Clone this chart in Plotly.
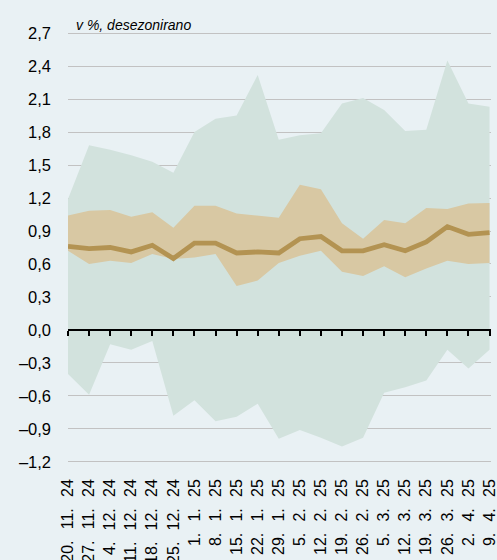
import plotly.graph_objects as go

dates = ["20. 11. 24", "27. 11. 24", "4. 12. 24", "11. 12. 24", "18. 12. 24", "25. 12. 24",
         "1. 1. 25", "8. 1. 25", "15. 1. 25", "22. 1. 25", "29. 1. 25", "5. 2. 25", "12. 2. 25",
         "19. 2. 25", "26. 2. 25", "5. 3. 25", "12. 3. 25", "19. 3. 25", "26. 3. 25", "2. 4. 25", "9. 4. 25"]

outer_upper = [1.19, 1.68, 1.64, 1.59, 1.53, 1.43, 1.80, 1.92, 1.95, 2.32, 1.73, 1.77, 1.79,
               2.06, 2.11, 2.00, 1.81, 1.82, 2.45, 2.06, 2.03]
outer_lower = [-0.40, -0.59, -0.13, -0.18, -0.10, -0.78, -0.64, -0.83, -0.79, -0.67, -0.99, -0.91, -0.98,
               -1.06, -0.98, -0.57, -0.52, -0.46, -0.18, -0.35, -0.18]
inner_upper = [1.04, 1.085, 1.09, 1.03, 1.07, 0.93, 1.13, 1.13, 1.06, 1.04, 1.02, 1.32, 1.28,
               0.97, 0.83, 1.00, 0.97, 1.11, 1.10, 1.15, 1.155]
inner_lower = [0.72, 0.60, 0.63, 0.61, 0.69, 0.645, 0.66, 0.69, 0.40, 0.45, 0.61, 0.675, 0.72,
               0.53, 0.49, 0.58, 0.48, 0.56, 0.63, 0.60, 0.61]
median = [0.76, 0.74, 0.75, 0.71, 0.77, 0.65, 0.79, 0.79, 0.70, 0.71, 0.70, 0.83, 0.85,
          0.72, 0.72, 0.775, 0.72, 0.80, 0.94, 0.87, 0.885]

y_ticks = [-1.2, -0.9, -0.6, -0.3, 0.0, 0.3, 0.6, 0.9, 1.2, 1.5, 1.8, 2.1, 2.4, 2.7]
y_ticktext = [f"{v:.1f}".replace(".", ",").replace("-", "\u2013") for v in y_ticks]

unit_label = "v %, desezonirano"

BG = "#e9f1f4"
OUTER = "#d2e2dd"
INNER = "#d8c8a3"
LINE = "#b39352"
GRID = "#c2c2c2"
FONT = "Liberation Sans, Arial, sans-serif"

x = list(range(len(dates)))
x_ticktext = [d.replace(" ", "\u2002\u2009") for d in dates]
Y_MIN, Y_MAX = -1.21, 2.71

fig = go.Figure()
fig.add_trace(go.Scatter(x=x, y=outer_lower, mode="lines", line=dict(width=0, color=OUTER),
                         showlegend=False, hoverinfo="skip"))
fig.add_trace(go.Scatter(x=x, y=outer_upper, mode="lines", line=dict(width=0, color=OUTER),
                         fill="tonexty", fillcolor=OUTER, showlegend=False, hoverinfo="skip"))
fig.add_trace(go.Scatter(x=x, y=inner_lower, mode="lines", line=dict(width=0, color=INNER),
                         showlegend=False, hoverinfo="skip"))
fig.add_trace(go.Scatter(x=x, y=inner_upper, mode="lines", line=dict(width=0, color=INNER),
                         fill="tonexty", fillcolor=INNER, showlegend=False, hoverinfo="skip"))
fig.add_trace(go.Scatter(x=x, y=median, mode="lines", line=dict(width=4.8, color=LINE),
                         showlegend=False))
# invisible trace to carry the zero axis
fig.add_trace(go.Scatter(x=x, y=[0] * len(x), xaxis="x2", mode="lines",
                         line=dict(width=0), showlegend=False, hoverinfo="skip"))

x_range = [0, len(dates) - 1 + 0.07]

fig.update_layout(
    width=497, height=560,
    margin=dict(l=67.7, r=6.3, t=32.4, b=96.9),
    paper_bgcolor=BG, plot_bgcolor=BG,
    font=dict(family=FONT, color="#000000"),
    xaxis=dict(range=x_range, tickmode="array", tickvals=x, ticktext=x_ticktext,
               tickangle=-90, showgrid=False, zeroline=False, showline=False,
               ticks="", tickfont=dict(size=16), ticklabelstandoff=12, automargin=False,
               ticklabeloverflow="allow"),
    xaxis2=dict(range=x_range, overlaying="x", anchor="free",
                position=(0 - Y_MIN) / (Y_MAX - Y_MIN),
                tickmode="array", tickvals=x, showticklabels=False,
                showgrid=False, zeroline=False, showline=True, linecolor="#000000",
                linewidth=2, ticks="outside", ticklen=5, tickwidth=1.5, tickcolor="#000000",
                layer="above traces", automargin=False),
    yaxis=dict(range=[Y_MIN, Y_MAX], tickmode="array", tickvals=y_ticks, ticktext=y_ticktext,
               showgrid=True, gridcolor=GRID, gridwidth=1.3, zeroline=False, showline=False,
               ticks="", tickfont=dict(size=16.5), ticklabelstandoff=16, automargin=False),
    annotations=[dict(text="<i>" + unit_label + "</i>", xref="paper", yref="y", x=0.014, y=2.7,
                      xanchor="left", yanchor="bottom", yshift=-2, showarrow=False,
                      font=dict(family=FONT, size=14, color="#000000"))],
)

fig.write_html("out.html", config={"displayModeBar": False},
               post_script="document.body.style.margin='0';document.body.style.overflow='hidden';")
